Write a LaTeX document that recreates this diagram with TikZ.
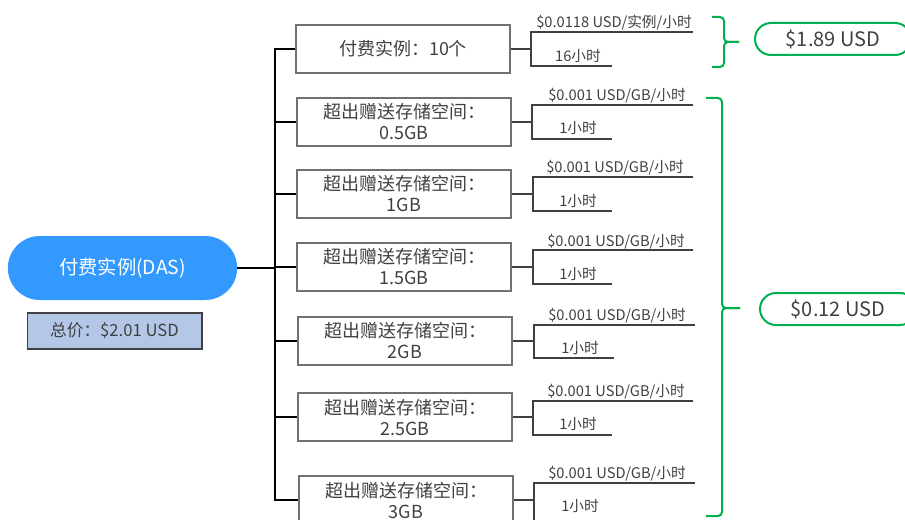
\documentclass[tikz,border=0pt]{standalone}
\usepackage{fontspec}
\setmainfont{Noto Sans CJK SC}
\usepackage{xcolor}
\usepackage{tikz}
\usetikzlibrary{calc}
\usetikzlibrary{positioning}

\definecolor{dasblue}{RGB}{51,153,255}
\definecolor{pricegreen}{RGB}{0,176,80}
\definecolor{totalfill}{RGB}{180,199,231}
\definecolor{boxgray}{RGB}{112,112,112}
\definecolor{textgray}{RGB}{64,64,64}

\begin{document}
\begin{tikzpicture}[x=0.75pt,y=-0.75pt,
    item node/.style={rectangle,draw=boxgray,line width=1.5pt,minimum width=160pt,minimum height=36.5pt,align=center,text=textgray,font=\fontsize{13.5}{15.75}\selectfont},
    rate/.style={inner sep=1pt,anchor=base,text=textgray,font=\fontsize{11}{12}\selectfont},
    trunk/.style={line width=1.5pt,black},
    conn/.style={line width=1pt,textgray},
    brace line/.style={pricegreen,line width=1.5pt,rounded corners=3pt},
    sum node/.style={rectangle,draw=pricegreen,line width=1.5pt,rounded corners=12pt,minimum width=117pt,minimum height=24pt,text=textgray,font=\fontsize{15}{16}\selectfont}]

    \clip (0,0) rectangle (905,520);

    \node[fill=dasblue,rounded corners=24pt,minimum width=172pt,minimum height=48pt,text=white,font=\fontsize{14.5}{16}\selectfont] (das) at (122.5,268) {付费实例(DAS)};
    \node[draw=textgray,fill=totalfill,line width=1pt,minimum width=131pt,minimum height=27pt,text=textgray,font=\fontsize{12.5}{14}\selectfont] (total-price) at (114.5,331) {总价：\$2.01 USD};

    \node[item node] (paid-inst) at (403,49) {付费实例：10个};
    \node[item node] (extra-05) at (404,122) {超出赠送存储空间：\\0.5GB};
    \node[item node] (extra-1) at (404,194) {超出赠送存储空间：\\1GB};
    \node[item node] (extra-15) at (404,267) {超出赠送存储空间：\\1.5GB};
    \node[item node] (extra-2) at (405,341) {超出赠送存储空间：\\2GB};
    \node[item node] (extra-25) at (405,417) {超出赠送存储空间：\\2.5GB};
    \node[item node] (extra-3) at (406,500) {超出赠送存储空间：\\3GB};

    % trunk on the left
    \coordinate (trunk-top) at (275,49);
    \coordinate (trunk-bot) at (275,500);
    \draw[trunk] (das.east) -- (das.east -| trunk-top);
    \draw[trunk] (paid-inst.west) -- (trunk-top) -- (trunk-bot) -- (extra-3.west);
    \draw[trunk] (extra-05.west -| trunk-top) -- (extra-05.west);
    \draw[trunk] (extra-1.west -| trunk-top) -- (extra-1.west);
    \draw[trunk] (extra-15.west -| trunk-top) -- (extra-15.west);
    \draw[trunk] (extra-2.west -| trunk-top) -- (extra-2.west);
    \draw[trunk] (extra-25.west -| trunk-top) -- (extra-25.west);

    % price and duration per item
    \coordinate (r1-j) at (531,49);
    \coordinate (r1-top) at (693,32);
    \coordinate (r1-bot) at (612,66);
    \draw[conn] (paid-inst.east) -- (r1-j);
    \draw[conn] (r1-top) -| (r1-j) |- (r1-bot);
    \node[rate] (r1-rate) at (614,28) {\$0.0118 USD/实例/小时};
    \node[rate] (r1-hours) at (578,62) {16小时};

    \coordinate (r2-j) at (532,122);
    \coordinate (r2-top) at (693,105);
    \coordinate (r2-bot) at (612,139);
    \draw[conn] (extra-05.east) -- (r2-j);
    \draw[conn] (r2-top) -| (r2-j) |- (r2-bot);
    \node[rate] (r2-rate) at (617,101) {\$0.001 USD/GB/小时};
    \node[rate] (r2-hours) at (578,134) {1小时};

    \coordinate (r3-j) at (533,194);
    \coordinate (r3-top) at (693,177);
    \coordinate (r3-bot) at (612,211);
    \draw[conn] (extra-1.east) -- (r3-j);
    \draw[conn] (r3-top) -| (r3-j) |- (r3-bot);
    \node[rate] (r3-rate) at (615,173) {\$0.001 USD/GB/小时};
    \node[rate] (r3-hours) at (578,206) {1小时};

    \coordinate (r4-j) at (533,267);
    \coordinate (r4-top) at (693,250);
    \coordinate (r4-bot) at (612,284);
    \draw[conn] (extra-15.east) -- (r4-j);
    \draw[conn] (r4-top) -| (r4-j) |- (r4-bot);
    \node[rate] (r4-rate) at (616,246) {\$0.001 USD/GB/小时};
    \node[rate] (r4-hours) at (578,279) {1小时};

    \coordinate (r5-j) at (534,341);
    \coordinate (r5-top) at (695,325);
    \coordinate (r5-bot) at (614,358);
    \draw[conn] (extra-2.east) -- (r5-j);
    \draw[conn] (r5-top) -| (r5-j) |- (r5-bot);
    \node[rate] (r5-rate) at (617,320) {\$0.001 USD/GB/小时};
    \node[rate] (r5-hours) at (580,353) {1小时};

    \coordinate (r6-j) at (533,417);
    \coordinate (r6-top) at (693,401);
    \coordinate (r6-bot) at (612,435);
    \draw[conn] (extra-25.east) -- (r6-j);
    \draw[conn] (r6-top) -| (r6-j) |- (r6-bot);
    \node[rate] (r6-rate) at (616,396) {\$0.001 USD/GB/小时};
    \node[rate] (r6-hours) at (578,429) {1小时};

    \coordinate (r7-j) at (534,500);
    \coordinate (r7-top) at (695,483);
    \coordinate (r7-bot) at (614,535);
    \draw[conn] (extra-3.east) -- (r7-j);
    \draw[conn] (r7-top) -| (r7-j) |- (r7-bot);
    \node[rate] (r7-rate) at (617,478) {\$0.001 USD/GB/小时};
    \node[rate] (r7-hours) at (580,511) {1小时};

    % braces and sums
    \coordinate (brace1-tip) at (739,42);
    \draw[brace line] (712,17) -- (724,17) -- (724,42) -- (brace1-tip);
    \draw[brace line] (712,67) -- (724,67) -- (724,42) -- (brace1-tip);
    \node[sum node] (inst-sum) at (833,39) {\$1.89 USD};

    \coordinate (brace2-tip) at (740,308);
    \draw[brace line] (706,98) -- (722,98) -- (722,308) -- (brace2-tip);
    \draw[brace line] (706,516) -- (722,516) -- (722,308) -- (brace2-tip);
    \node[sum node] (storage-sum) at (838,309) {\$0.12 USD};

\end{tikzpicture}
\end{document}
